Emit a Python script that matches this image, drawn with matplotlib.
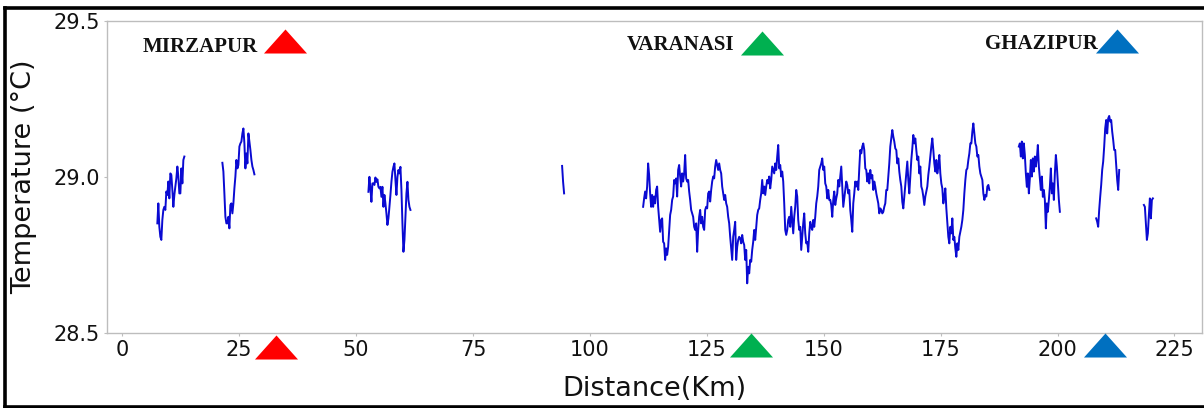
import numpy as np
import matplotlib
matplotlib.use("Agg")
import matplotlib.pyplot as plt
from matplotlib.lines import Line2D

# ---------------------------------------------------------------------------
# Surface water temperature along the river track (sampled every STEP_KM)
# ---------------------------------------------------------------------------
STEP_KM = 0.214

seg_start_km = [7.49, 21.40, 52.63, 94.05, 111.38, 191.73, 208.27, 218.47]

seg1_temp = [28.852, 28.916, 28.841, 28.809, 28.799, 28.863, 28.895, 28.905, 28.895, 28.954,
             28.943, 28.986, 28.932, 29.012, 29.007, 28.959, 28.905, 28.943, 28.970, 28.996,
             29.034, 29.002, 28.948, 28.948, 29.028, 28.980, 29.055, 29.066]

seg2_temp = [29.046, 29.018, 28.948, 28.873, 28.852, 28.852, 28.873, 28.836, 28.911, 28.916,
             28.884, 28.916, 28.964, 29.002, 29.055, 29.028, 29.039, 29.098, 29.108, 29.114,
             29.140, 29.156, 29.108, 29.028, 29.076, 29.044, 29.140, 29.114, 29.087, 29.055,
             29.034, 29.023, 29.009]

seg3_temp = [28.953, 29.001, 28.964, 28.921, 28.980, 28.980, 28.975, 28.999, 28.985, 28.993,
             28.969, 28.964, 28.969, 28.937, 28.969, 28.905, 28.943, 28.916, 28.884, 28.847,
             28.868, 28.905, 28.943, 28.985, 29.017, 29.033, 29.044, 28.991, 28.943, 29.001,
             29.023, 29.012, 29.033, 28.959, 28.852, 28.761, 28.799, 28.873, 28.948, 28.985,
             28.927, 28.905, 28.895]

seg4_temp = [29.036, 28.985, 28.948]

seg5_temp = [
    28.905, 28.932, 28.954, 28.932, 28.970, 29.044, 29.007, 28.948, 28.905, 28.943,
    28.905, 28.938, 28.916, 28.959, 28.970, 28.905, 28.863, 28.825, 28.863, 28.868,
    28.793, 28.788, 28.735, 28.772, 28.751, 28.777, 28.831, 28.879, 28.895, 28.927,
    28.938, 28.991, 28.980, 28.996, 28.938, 29.023, 29.039, 29.002, 28.970, 29.012,
    28.986, 29.012, 29.071, 28.996, 28.986, 28.991, 28.954, 28.927, 28.895, 28.884,
    28.873, 28.841, 28.831, 28.852, 28.761, 28.831, 28.873, 28.895, 28.852, 28.873,
    28.841, 28.831, 28.895, 28.905, 28.900, 28.948, 28.954, 28.922, 28.959, 28.986,
    29.002, 28.996, 29.034, 29.055, 29.039, 29.023, 29.044, 29.023, 29.012, 28.970,
    28.948, 28.927, 28.943, 28.916, 28.905, 28.873, 28.852, 28.809, 28.772, 28.735,
    28.809, 28.831, 28.857, 28.735, 28.777, 28.799, 28.809, 28.804, 28.788, 28.815,
    28.793, 28.783, 28.735, 28.767, 28.660, 28.713, 28.692, 28.735, 28.729, 28.767,
    28.793, 28.831, 28.799, 28.841, 28.879, 28.895, 28.900, 28.927, 28.948, 28.991,
    28.948, 28.970, 28.943, 28.970, 28.991, 28.980, 29.002, 28.964, 28.991, 29.034,
    29.023, 29.012, 29.044, 29.023, 29.066, 29.103, 29.028, 29.039, 29.002, 29.018,
    28.986, 28.916, 28.831, 28.815, 28.831, 28.863, 28.873, 28.841, 28.905, 28.863,
    28.820, 28.873, 28.905, 28.959, 28.938, 28.863, 28.831, 28.841, 28.767, 28.809,
    28.852, 28.884, 28.820, 28.788, 28.793, 28.761, 28.820, 28.857, 28.841, 28.831,
    28.863, 28.841, 28.873, 28.916, 28.938, 28.970, 29.023, 29.034, 29.044, 29.060,
    29.023, 29.034, 28.980, 28.970, 28.932, 28.959, 28.927,
    28.927, 28.911, 28.873, 28.927, 28.954, 28.911, 28.932, 28.948, 28.991, 28.970,
    29.002,
    29.034, 28.970, 28.905, 28.932, 28.959, 28.986, 28.975, 28.948, 28.959, 28.895,
    28.863, 28.825, 28.916, 28.948, 28.986, 28.970, 28.986, 28.959, 29.028, 29.087,
    29.076, 29.098, 29.108, 29.087, 29.028, 29.023, 28.986, 29.012, 28.980, 29.023,
    28.996, 29.007, 28.959, 28.986, 28.970, 28.948, 28.932, 28.916, 28.884, 28.900,
    28.895, 28.884, 28.889, 28.905, 28.916, 28.959, 28.959, 29.002, 29.044, 29.098,
    29.124, 29.151, 29.130, 29.114, 29.092, 29.087, 29.044, 29.060, 29.018, 28.991,
    28.970, 28.921, 28.900, 28.938, 28.980, 29.012, 29.050, 28.991, 28.948, 29.002,
    29.055, 29.092, 29.135, 29.108, 29.124, 29.087, 29.055, 29.066, 29.012, 29.034,
    28.970, 28.959, 28.938, 28.911, 28.938, 28.954, 28.970, 29.007, 29.034, 29.066,
    29.098, 29.124, 29.087, 29.044, 29.018, 29.055, 29.012, 29.034, 29.071, 29.012,
    28.980, 28.964, 28.916, 28.938, 28.964, 28.900, 28.852, 28.809, 28.788, 28.841,
    28.820, 28.868, 28.799, 28.809, 28.772, 28.745, 28.788, 28.767, 28.809, 28.825,
    28.841, 28.863, 28.895, 28.948, 28.991, 29.023, 29.028, 29.055, 29.076, 29.108,
    29.108, 29.146, 29.172, 29.140, 29.108, 29.098, 29.066, 29.071, 29.034, 29.012,
    29.002, 28.991, 28.948, 28.927, 28.943, 28.938, 28.970, 28.975, 28.959]

seg6_temp = [29.098, 29.108, 29.066, 29.114, 29.060, 29.108, 29.071, 29.012, 28.969, 29.012,
             28.948, 28.996, 29.055, 29.002, 29.060, 29.018, 29.066, 29.034, 29.060, 29.103,
             29.034, 28.996, 28.959, 29.002, 28.937, 28.959, 28.927, 28.836, 28.916, 28.889,
             28.927, 28.969, 29.028, 28.948, 28.980, 28.927, 29.012, 29.071, 29.034, 28.980,
             28.927, 28.889]

seg7_temp = [28.868, 28.857, 28.841, 28.895, 28.937, 28.975, 29.023, 29.050, 29.098, 29.156,
             29.183, 29.140, 29.188, 29.196, 29.178, 29.183, 29.146, 29.119, 29.087, 29.087,
             29.039, 28.991, 28.959, 29.023]

seg8_temp = [28.911, 28.905, 28.852, 28.799, 28.820, 28.879, 28.932, 28.868, 28.927, 28.932]

segments_temp = [seg1_temp, seg2_temp, seg3_temp, seg4_temp,
                 seg5_temp, seg6_temp, seg7_temp, seg8_temp]

station_names = ["MIRZAPUR", "VARANASI", "GHAZIPUR"]
station_colors = ["#ff0000", "#00b050", "#0070c0"]

x_ticks = [0, 25, 50, 75, 100, 125, 150, 175, 200, 225]
y_ticks = [28.5, 29.0, 29.5]

# ---------------------------------------------------------------------------
W, H, DPI = 1204, 408, 100
fig = plt.figure(figsize=(W / DPI, H / DPI), dpi=DPI)
fig.patch.set_facecolor("white")

ax = fig.add_axes([106.7 / W, 1 - 333.3 / H, (1202 - 106.7) / W, (333.3 - 21) / H])

for start, temps in zip(seg_start_km, segments_temp):
    dist = start + STEP_KM * np.arange(len(temps))
    ax.plot(dist, temps, color="#0a0ad2", lw=1.4, solid_joinstyle="round")

ax.set_xlim(-3.34, 230.9)
ax.set_ylim(28.5, 29.5)
ax.set_xticks(x_ticks)
ax.set_yticks(y_ticks)
ax.set_yticklabels([f"{v:.1f}" for v in y_ticks])

for sp in ax.spines.values():
    sp.set_color("#bdbdbd")
    sp.set_linewidth(1.0)
ax.tick_params(axis="both", direction="out", length=2.5, width=0.8,
               color="#bdbdbd", labelsize=15, labelcolor="#111111")
ax.tick_params(axis="x", pad=2.0)
ax.tick_params(axis="y", pad=2.3)

ax.set_xlabel("Distance(Km)", fontsize=19.5, color="#111111", labelpad=12)
ax.set_ylabel("Temperature (°C)", fontsize=19.5, color="#111111", labelpad=12)

# station markers: flattened triangles above the traces and below the axis
tri = [(-1.0, -0.558), (1.0, -0.558), (0.0, 0.558)]
top_marks = [(34.7, 29.436), (136.7, 29.428), (212.8, 29.437)]
bottom_marks = [(32.8, 28.456), (134.5, 28.4625), (210.1, 28.4625)]
for (xt, yt), (xb, yb), c in zip(top_marks, bottom_marks, station_colors):
    ax.plot([xt], [yt], marker=tri, ms=31, color=c, mew=0, clip_on=False, zorder=5)
    ax.plot([xb], [yb], marker=tri, ms=31, color=c, mew=0, clip_on=False, zorder=5)

label_pos = [(0.0331, 0.9007), (0.4750, 0.9071), (0.8018, 0.9103)]
for name, (lx, ly) in zip(station_names, label_pos):
    ax.text(lx, ly, name, transform=ax.transAxes, ha="left", va="baseline",
            fontsize=15, fontweight="bold", family="Liberation Serif", color="#111111")

# outer frame of the figure
frame_kw = dict(color="black", lw=2.6, transform=fig.transFigure, solid_capstyle="projecting")
fig.add_artist(Line2D([4.5 / W, 4.5 / W], [1 - 7.5 / H, 1 - 406.5 / H], **frame_kw))
fig.add_artist(Line2D([4.5 / W, 1203.5 / W], [1 - 7.5 / H, 1 - 7.5 / H], **frame_kw))
fig.add_artist(Line2D([4.5 / W, 1203.5 / W], [1 - 406.5 / H, 1 - 406.5 / H], **frame_kw))

fig.savefig("out.png", dpi=DPI)
